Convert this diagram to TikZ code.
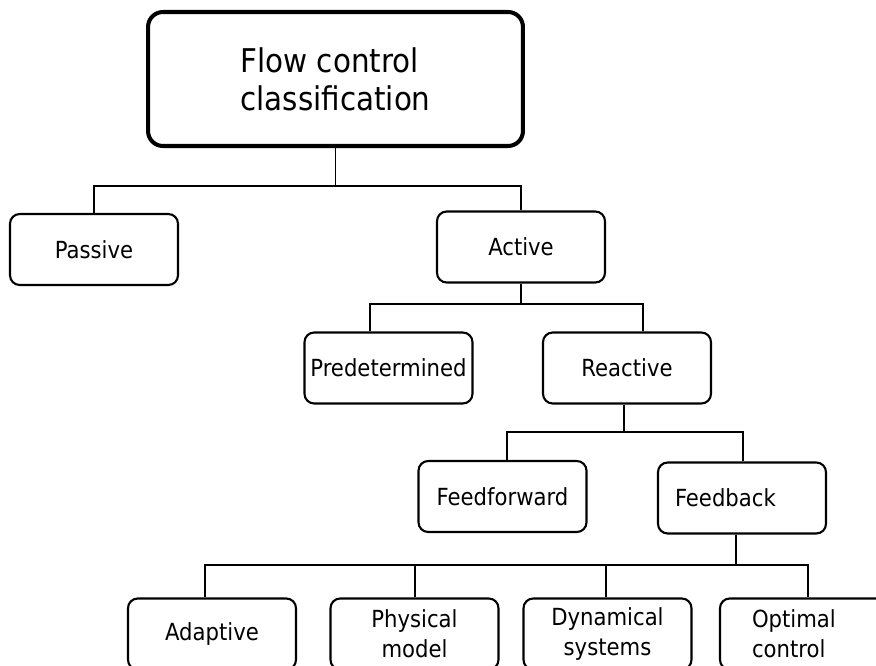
\documentclass[tikz,border=0pt]{standalone}
\usepackage{fontspec}
\setmainfont{DejaVu Sans Condensed}

\begin{document}
\begin{tikzpicture}[x=0.02cm, y=-0.02cm,
    box/.style={draw, rounded corners=5.5pt, line width=1.2pt, minimum width=3.36cm,
        minimum height=1.42cm, inner sep=1pt, align=center,
        font=\fontsize{13.4}{17}\selectfont},
    topbox/.style={draw, rounded corners=8.5pt, line width=2.3pt, minimum width=7.5cm,
        minimum height=2.68cm, align=left, font=\fontsize{18.6}{21.5}\selectfont},
    link/.style={line width=0.7pt}]
            % frame
            \useasboundingbox (0,0) rectangle (876,666);
            \clip (0,0) rectangle (876,666);

            % boxes
            \node[topbox] (top) at (335.5,79) {Flow control\\classification};
            \node[box] (passive) at (94,249.5) {Passive};
            \node[box] (active) at (521,247) {Active};
            \node[box] (pred) at (388.5,368) {Predetermined};
            \node[box] (reactive) at (627,368) {Reactive};
            \node[box] (ffwd) at (502.5,496.5) {Feedforward};
            \node[box, align=left, inner xsep=0.34cm, text width=2.68cm] (fback) at (742,498) {Feedback};
            \node[box] (adaptive) at (212,634) {Adaptive};
            \node[box] (physical) at (414.5,634) {Physical\\model};
            \node[box] (dynamical) at (607.5,634) {Dynamical\\systems};
            \node[box, align=left, inner xsep=0.64cm, text width=2.08cm] (optimal) at (804,634) {Optimal\\control};

            % bus levels
            \coordinate (bus1) at (0,186);
            \coordinate (bus2) at (0,304);
            \coordinate (bus3) at (0,432);
            \coordinate (bus4) at (0,565);

            % first level
            \draw[link] (top.south) |- (passive.north |- bus1) -- (passive.north);
            \draw[link] (top.south) |- (active.north |- bus1) -- (active.north);

            % second level
            \draw[link] (active.south) |- ([xshift=-0.37cm]pred.north |- bus2) -- ([xshift=-0.37cm]pred.north);
            \draw[link] (active.south) |- ([xshift=0.32cm]reactive.north |- bus2) -- ([xshift=0.32cm]reactive.north);

            % third level
            \draw[link] ([xshift=-0.06cm]reactive.south) |- ([xshift=0.09cm]ffwd.north |- bus3) -- ([xshift=0.09cm]ffwd.north);
            \draw[link] ([xshift=-0.06cm]reactive.south) |- ([xshift=0.02cm]fback.north |- bus3) -- ([xshift=0.02cm]fback.north);

            % fourth level
            \foreach \n/\s in {adaptive/-0.14cm, physical/0.01cm, dynamical/-0.03cm, optimal/0.08cm}
                \draw[link] ([xshift=-0.12cm]fback.south) |- ([xshift=\s]\n.north |- bus4) -- ([xshift=\s]\n.north);
\end{tikzpicture}
\end{document}
